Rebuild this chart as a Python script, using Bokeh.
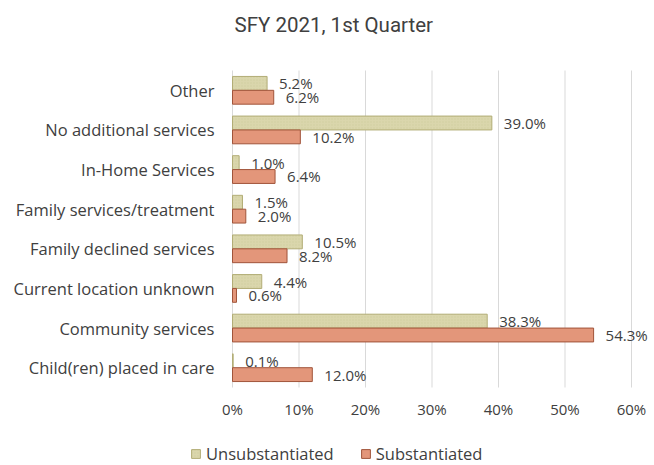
from bokeh.plotting import figure
from bokeh.models import (ColumnDataSource, Range1d, FixedTicker,
                          Legend, LegendItem)
from bokeh.transform import dodge
from bokeh.core.properties import value
from bokeh.embed import file_html
from bokeh.resources import INLINE

categories = ["Child(ren) placed in care", "Community services",
              "Current location unknown", "Family declined services",
              "Family services/treatment", "In-Home Services",
              "No additional services", "Other"]
unsubstantiated = [0.1, 38.3, 4.4, 10.5, 1.5, 1.0, 39.0, 5.2]
substantiated = [12.0, 54.3, 0.6, 8.2, 2.0, 6.4, 10.2, 6.2]
tick_values = [0, 10, 20, 30, 40, 50, 60]
tick_labels = ["0%", "10%", "20%", "30%", "40%", "50%", "60%"]
series_names = ["Unsubstantiated", "Substantiated"]
title_text = "SFY 2021, 1st Quarter"

FONT = "'Open Sans', 'Noto Sans', sans-serif"
TXT = "#404040"
W, H = 654, 465

idx = list(range(len(categories)))
src = ColumnDataSource(dict(
    idx=idx,
    unsub=unsubstantiated,
    sub=substantiated,
    unsub_lbl=[f"{v:.1f}%" for v in unsubstantiated],
    sub_lbl=[f"{v:.1f}%" for v in substantiated],
))

# Frame covers the figure below the title; plot area geometry (px):
# 0% at x=232, 60% at x=631; category band from y=70 to y=387
ZERO_PX, SIXTY_PX, TOP_PX, BOT_PX = 232, 631, 70, 387
FRAME_TOP = 36
xpu = (SIXTY_PX - ZERO_PX) / 60
ypu = (BOT_PX - TOP_PX) / len(categories)
y_top = len(categories) - 0.5
x_range = Range1d(-ZERO_PX / xpu, (W - ZERO_PX) / xpu)
y_range = Range1d(y_top - (H - TOP_PX) / ypu,
                  y_top + (TOP_PX - FRAME_TOP) / ypu)

p = figure(width=W, height=H, output_backend="svg", toolbar_location=None,
           x_range=x_range, y_range=y_range,
           min_border_left=0, min_border_right=0, min_border_top=FRAME_TOP,
           min_border_bottom=0)

p.title.text = title_text
p.title.text_font = "Roboto"
p.title.text_font_size = "20.5px"
p.title.text_font_style = "normal"
p.title.text_color = TXT
p.title.align = "left"
p.title.offset = 234
p.title.standoff = 0

# vertical gridlines over the plot area only
p.segment(x0=tick_values, y0=-0.5, x1=tick_values, y1=y_top,
          line_color="#D9D9D9", line_width=1)

r1 = p.hbar(y=dodge("idx", 0.175), right="unsub", left=0,
            height=0.35, source=src, fill_color="#DAD6AC",
            line_color="#B2AD76", line_width=1,
            hatch_pattern="dot", hatch_color="#C8C38E", hatch_scale=3,
            hatch_alpha=0.5)
r2 = p.hbar(y=dodge("idx", -0.175), right="sub", left=0,
            height=0.35, source=src, fill_color="#E3967A",
            line_color="#A0543A", line_width=1)

p.text(x="unsub", y=dodge("idx", 0.175), text="unsub_lbl",
       source=src, x_offset=12, text_baseline="middle", text_align="left",
       text_font=value(FONT), text_font_size="15px", text_color=TXT)
p.text(x="sub", y=dodge("idx", -0.175), text="sub_lbl",
       source=src, x_offset=12, text_baseline="middle", text_align="left",
       text_font=value(FONT), text_font_size="15px", text_color=TXT)

p.xaxis.ticker = FixedTicker(ticks=tick_values)
p.xaxis.major_label_overrides = {v: l for v, l in zip(tick_values, tick_labels)}
p.yaxis.ticker = FixedTicker(ticks=idx)
p.yaxis.major_label_overrides = {i: c for i, c in zip(idx, categories)}
p.xaxis.fixed_location = -0.5
p.yaxis.fixed_location = 0
for ax in (p.xaxis, p.yaxis):
    ax.axis_line_color = None
    ax.major_tick_line_color = None
    ax.minor_tick_line_color = None
    ax.major_tick_out = 0
    ax.major_tick_in = 0
    ax.major_label_text_font = FONT
    ax.major_label_text_color = TXT
p.xaxis.major_label_text_font_size = "15px"
p.yaxis.major_label_text_font_size = "16.5px"
p.xaxis.major_label_standoff = 11
p.yaxis.major_label_standoff = 18

p.grid.grid_line_color = None
p.outline_line_color = None

legend = Legend(items=[LegendItem(label=series_names[0], renderers=[r1]),
                       LegendItem(label=series_names[1], renderers=[r2])],
                orientation="horizontal", location=(190, 0),
                glyph_width=11, glyph_height=11, label_standoff=5, spacing=26,
                padding=0, margin=0, border_line_color=None,
                background_fill_alpha=0, label_text_font=FONT,
                label_text_font_size="16.5px", label_text_color=TXT,
                label_height=16)
p.add_layout(legend, "center")

open("out.html", "w").write(file_html(p, INLINE))
